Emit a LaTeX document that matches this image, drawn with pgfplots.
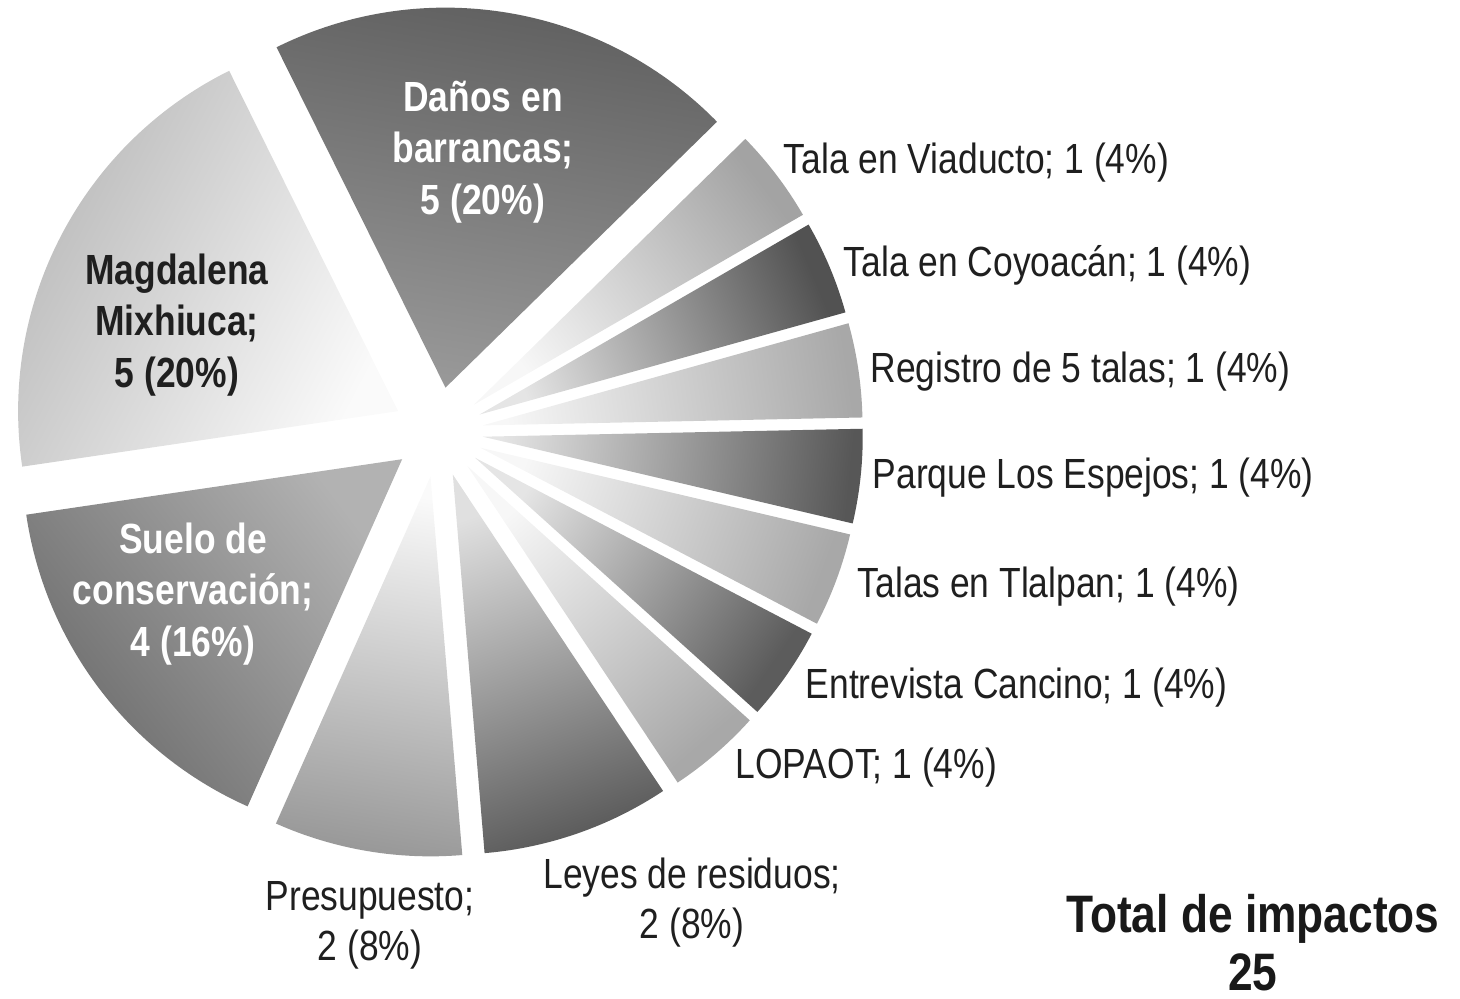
\documentclass[border=0pt]{standalone}
\usepackage{fontspec}
\setmainfont{Liberation Sans}[FakeStretch=0.84]
\usepackage{pgfplots}
\usepackage{pgfplotstable}
\pgfplotsset{compat=1.18}

% one row per slice, clockwise from "Daños en barrancas"
% outer/inner = grey level (black!x) at rim and near the centre
\pgfplotstableread{
value outer inner
5 64 40
1 36 3
1 68 10
1 34 3
1 66 10
1 34 3
1 64 10
1 34 3
2 64 12
2 40 2
4 58 30
5 28 2
}\piedata

\begin{document}
\begin{tikzpicture}[
    lbl/.style={font=\fontsize{12}{14.2}\selectfont, text=black!88, inner sep=0pt},
    blbl/.style={font=\fontsize{12}{14.6}\selectfont\bfseries, align=center, inner sep=0pt},
]
\begin{axis}[
    width=14.6cm, height=9.99cm,
    scale only axis,
    xmin=0, xmax=1460,
    ymin=0, ymax=999,
    y dir=reverse,
    hide axis,
    clip=false,
]
\coordinate (bl) at (axis cs:0,999);
\coordinate (tr) at (axis cs:1460,0);

\def\angstart{116.4}
\pgfplotstablegetrowsof{\piedata}
\pgfmathtruncatemacro\nrows{\pgfplotsretval-1}
\pgfplotsforeachungrouped \i in {0,...,\nrows}{%
  \pgfplotstablegetelem{\i}{value}\of\piedata \let\v=\pgfplotsretval
  \pgfplotstablegetelem{\i}{outer}\of\piedata \let\co=\pgfplotsretval
  \pgfplotstablegetelem{\i}{inner}\of\piedata \let\ci=\pgfplotsretval
  \pgfmathsetmacro\angend{\angstart-\v*360/25}
  \pgfmathsetmacro\angmid{(\angstart+\angend)/2}
  \pgfmathsetmacro\shang{\angmid-90}
  \edef\temp{\noexpand\shade[top color=black!\co, bottom color=black!\ci, shading angle=\shang]
    ([shift={(\angmid:0.45cm)}]axis cs:438,432) -- ++(\angstart:3.8cm)
    arc[start angle=\angstart, end angle=\angend, radius=3.8cm] -- cycle;}
  \temp
  \global\let\angstart=\angend
}

% labels inside the big slices
\node[blbl, text=white] at (axis cs:483,152) {Daños en\\barrancas;\\5 (20\%)};
\node[blbl, text=black!88] at (axis cs:177,325) {Magdalena\\Mixhiuca;\\5 (20\%)};
\node[blbl, text=white] at (axis cs:193,594) {Suelo de\\conservación;\\4 (16\%)};

% outside labels
\node[lbl, anchor=west] at (axis cs:783,163) {Tala en Viaducto; 1 (4\%)};
\node[lbl, anchor=west] at (axis cs:843,265) {Tala en Coyoacán; 1 (4\%)};
\node[lbl, anchor=west] at (axis cs:870,372) {Registro de 5 talas; 1 (4\%)};
\node[lbl, anchor=west] at (axis cs:872,478) {Parque Los Espejos; 1 (4\%)};
\node[lbl, anchor=west] at (axis cs:857,587) {Talas en Tlalpan; 1 (4\%)};
\node[lbl, anchor=west] at (axis cs:805,688) {Entrevista Cancino; 1 (4\%)};
\node[lbl, anchor=west] at (axis cs:735,768) {LOPAOT; 1 (4\%)};
\node[lbl, align=center] at (axis cs:692,903) {Leyes de residuos;\\2 (8\%)};
\node[lbl, align=center] at (axis cs:370,925) {Presupuesto;\\2 (8\%)};

\node[font=\fontsize{15}{16.5}\selectfont\bfseries, align=center, text=black!90, inner sep=0pt]
  at (axis cs:1253,943) {Total de impactos\\25};
\end{axis}
\pgfresetboundingbox
\path (bl) rectangle (tr);
\end{tikzpicture}
\end{document}
